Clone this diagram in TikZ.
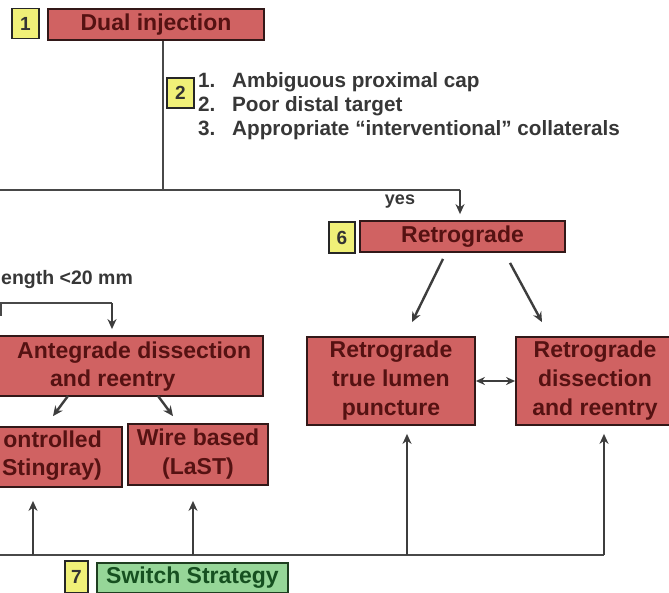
\documentclass[tikz,border=0pt]{standalone}
\usepackage{fontspec}
\setmainfont{Liberation Sans}
\usetikzlibrary{arrows.meta,calc}
\definecolor{boxfill}{RGB}{208,98,98}
\definecolor{boxtext}{RGB}{85,18,18}
\definecolor{boxborder}{RGB}{50,24,24}
\definecolor{numfill}{RGB}{240,240,120}
\definecolor{greenfill}{RGB}{150,214,152}
\definecolor{greentext}{RGB}{22,80,32}
\definecolor{greenborder}{RGB}{30,62,32}
\definecolor{linegray}{RGB}{72,72,72}
\definecolor{notegray}{RGB}{55,55,55}
\tikzset{
  redbox/.style={draw=boxborder, fill=boxfill, line width=1.8pt, inner sep=0pt,
    text=boxtext, font=\bfseries\fontsize{23}{29}\selectfont, align=center},
  boxlabel/.style={text=boxtext, font=\bfseries\fontsize{23}{28}\selectfont, inner sep=0pt},
  numbox/.style={draw=black!85, fill=numfill, line width=1.8pt, inner sep=0pt,
    font=\bfseries\fontsize{19}{19}\selectfont, text=black!80},
  greenbox/.style={draw=greenborder, fill=greenfill, line width=1.8pt, inner sep=0pt,
    text=greentext, font=\bfseries\fontsize{23}{23}\selectfont},
  conn/.style={draw=linegray, line width=2.6pt},
  arr/.style={draw=linegray!85!black, line width=2.4pt, -{Stealth[length=10pt,width=9pt]}},
  darr/.style={draw=linegray!85!black, line width=2.2pt, {Stealth[length=9pt,width=8pt]}-{Stealth[length=9pt,width=8pt]}},
  note/.style={text=notegray, font=\bfseries\fontsize{20.7}{24}\selectfont, inner sep=0pt}
}
\begin{document}
\begin{tikzpicture}[x=1pt,y=-1pt]
\useasboundingbox (0,0) rectangle (669,592);
\clip (0,0) rectangle (669,592);
\fill[white] (0,0) rectangle (669,592);

% top
\node[numbox, minimum width=27, minimum height=30] (n1) at (25.5,23.5) {1};
\node[redbox, minimum width=216, minimum height=31] (dual) at (156,24.5) {Dual injection};
\coordinate (j1) at (163,190);
\draw[conn] (dual.south -| j1) -- (j1);

\node[numbox, minimum width=27, minimum height=30] (n2) at (180.5,93) {2};
\node[note, anchor=north west, align=left] (crit) at (198,72)
  {\makebox[34pt][l]{1.}Ambiguous proximal cap\\
   \makebox[34pt][l]{2.}Poor distal target\\
   \makebox[34pt][l]{3.}Appropriate “interventional” collaterals};

% branch line
\coordinate (jl) at (0,190);
\coordinate (jr) at (460,190);
\draw[conn] (jl) -- (jr);
\node[note, font=\bfseries\fontsize{18}{18}\selectfont] (yes) at (400,202) {yes};

% retrograde
\node[numbox, minimum width=26, minimum height=31] (n6) at (342,237.5) {6};
\node[redbox, minimum width=205, minimum height=31] (retro) at (462.5,236.5) {Retrograde};
\draw[arr] (jr) -- ($(jr |- retro.north)+(0,-6)$);

\node[redbox, minimum width=168, minimum height=88] (rtl) at (391,381)
  {Retrograde\\true lumen\\puncture};
\node[redbox, minimum width=158, minimum height=88] (rdr) at (595,381)
  {Retrograde\\dissection\\and reentry};
\draw[arr] ($(retro.south)+(-19.5,6)$) -- ($(rtl.north)+(21,-14)$);
\draw[arr] ($(retro.south)+(47.5,10)$) -- ($(rdr.north)+(-53,-14)$);
\draw[darr] (rtl.east) -- (rdr.west);

% antegrade side
\node[note, anchor=west, font=\bfseries\fontsize{19.5}{24}\selectfont] (len) at (1,279) {ength <20 mm};
\coordinate (al) at (0,303);
\coordinate (ar) at (112,303);
\draw[conn] (al) -- (ar);
\coordinate (tick) at (1,303);
\draw[conn] (tick) -- ++(0,13);

\node[redbox, minimum width=298, minimum height=60] (ante) at (114,366) {};
\node[boxlabel, anchor=west, align=left] (antetext) at (17,367)
  {Antegrade dissection\\\hspace*{33pt}and reentry};
\draw[arr] (ar) -- ($(ar |- ante.north)+(0,-6)$);

\node[redbox, minimum width=152, minimum height=60] (ctrl) at (46,457) {};
\node[boxlabel, anchor=east, align=right] (ctrltext) at (102,456)
  {ontrolled\\Stingray)};
\node[redbox, minimum width=140, minimum height=61] (wire) at (198,454.5)
  {Wire based\\(LaST)};
\draw[arr] ($(ante.south)+(-46,-1)$) -- ($(ctrl.north)+(7,-10)$);
\draw[arr] ($(ante.south)+(44,-1)$) -- ($(wire.north)+(-25,-7)$);

% switch strategy
\coordinate (bl) at (0,555);
\coordinate (br) at (604,555);
\draw[conn] (bl) -- (br);
\coordinate (b1) at (33,555);
\coordinate (b2) at (193,555);
\coordinate (b3) at (407,555);
\draw[arr] (b1) -- ($(b1 |- ctrl.south)+(0,13)$);
\draw[arr] (b2) -- ($(b2 |- wire.south)+(0,15)$);
\draw[arr] (b3) -- ($(b3 |- rtl.south)+(0,8)$);
\draw[arr] (br) -- ($(br |- rdr.south)+(0,8)$);

\node[numbox, minimum width=23, minimum height=32] (n7) at (76.5,577) {7};
\node[greenbox, minimum width=191, minimum height=30] (switch) at (192.5,578) {Switch Strategy};
\end{tikzpicture}
\end{document}
